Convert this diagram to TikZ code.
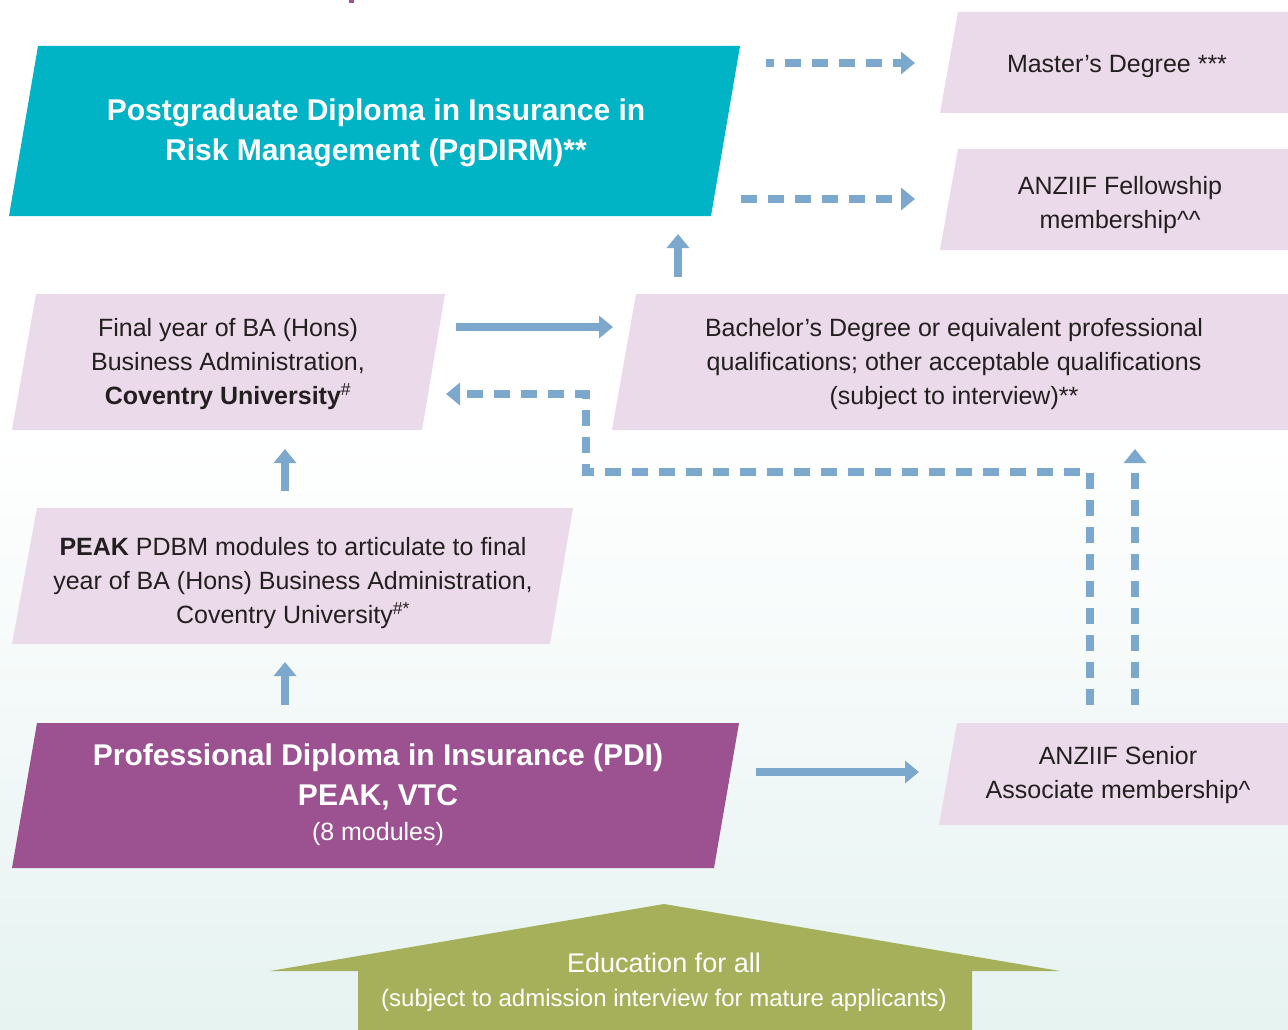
\documentclass[tikz,border=0pt]{standalone}
\usepackage{fontspec}
\setmainfont{Liberation Sans}
\usetikzlibrary{arrows.meta}
\definecolor{cTeal}{RGB}{0,180,197}
\definecolor{cPurple}{RGB}{156,82,144}
\definecolor{cPink}{RGB}{235,218,233}
\definecolor{cBlue}{RGB}{125,168,206}
\definecolor{cGreen}{RGB}{166,176,90}
\definecolor{cText}{RGB}{35,31,32}
\definecolor{cMint}{RGB}{230,243,241}
\tikzset{
  body/.style={text=cText, font=\fontsize{25}{34}\selectfont, align=center, inner sep=0pt},
  title/.style={text=white, font=\fontsize{30}{40}\selectfont\bfseries, align=center, inner sep=0pt},
  pinkbox/.style={fill=cPink},
  solidarrow/.style={draw=cBlue, line width=8pt, -{Triangle[width=22pt,length=14pt]}},
  dasharrow/.style={draw=cBlue, line width=8pt, dash pattern=on 16pt off 11pt, line join=miter, -{Triangle[width=22pt,length=14pt]}},
}
\begin{document}
\begin{tikzpicture}[x=1pt,y=-1pt]
\useasboundingbox (0,0) rectangle (1288,1030);
% background
\fill[white] (0,0) rectangle (1288,1030);
\shade[top color=white, bottom color=cMint] (0,432) rectangle (1288,1030);
\fill[cPurple] (349,0) rectangle (354,3);

% boxes
\fill[cTeal] (38,46) -- (740,46) -- (711,216) -- (9,216) -- cycle;
\fill[pinkbox] (958,12) -- (1288,12) -- (1288,113) -- (940,113) -- cycle;
\fill[pinkbox] (958,149) -- (1288,149) -- (1288,250) -- (940,250) -- cycle;
\fill[pinkbox] (36,294) -- (445,294) -- (422,430) -- (12,430) -- cycle;
\fill[pinkbox] (636,294) -- (1288,294) -- (1288,430) -- (612,430) -- cycle;
\fill[pinkbox] (37,508) -- (573,508) -- (550,644) -- (12,644) -- cycle;
\fill[cPurple] (37,723) -- (739,723) -- (714,868) -- (12,868) -- cycle;
\fill[pinkbox] (957,723) -- (1288,723) -- (1288,825) -- (939,825) -- cycle;
\fill[cGreen] (358,1030) -- (358,971) -- (270,971) -- (664,904) -- (1060,971) -- (972,971) -- (972,1030) -- cycle;

% texts
\node[title] (pg) at (376,133) {Postgraduate Diploma in Insurance in\\Risk Management (PgDIRM)**};
\node[body] (master) at (1117,66) {Master’s Degree ***};
\node[body] (fellow) at (1120,205) {ANZIIF Fellowship\\membership\textasciicircum\textasciicircum};
\node[body] (final) at (228,364) {Final year of BA (Hons)\\Business Administration,\\\textbf{Coventry University}\textsuperscript{\#}};
\node[body] (bach) at (954,364) {Bachelor’s Degree or equivalent professional\\qualifications; other acceptable qualifications\\(subject to interview)**};
\node[body] (peak) at (293,583) {\textbf{PEAK} PDBM modules to articulate to final\\year of BA (Hons) Business Administration,\\Coventry University\textsuperscript{\#*}};
\node[title, anchor=base] (pdi1) at (378,765) {Professional Diploma in Insurance (PDI)};
\node[title, anchor=base] (pdi2) at (378,805) {PEAK, VTC};
\node[body, text=white, anchor=base] (pdi3) at (378,840) {(8 modules)};
\node[body] (senior) at (1118,775) {ANZIIF Senior\\Associate membership\textasciicircum};
\node[body, text=white, font=\fontsize{27}{32}\selectfont, anchor=base] (edu1) at (664,972) {Education for all};
\node[body, text=white, font=\fontsize{24}{28}\selectfont, anchor=base] (edu2) at (664,1006) {(subject to admission interview for mature applicants)};

% connector end points
\coordinate (pgA) at (766,63);
\coordinate (masterIn) at (915,63);
\coordinate (pgB) at (741,199);
\coordinate (fellowIn) at (915,199);
\coordinate (bachUp) at (678,277);
\coordinate (pgDown) at (678,234);
\coordinate (finalOut) at (456,327);
\coordinate (bachIn) at (613,327);
\coordinate (senA) at (1090,705);
\coordinate (elbowA) at (1090,472);
\coordinate (elbowB) at (586,472);
\coordinate (elbowC) at (586,394);
\coordinate (finalIn) at (446,394);
\coordinate (senB) at (1135,705);
\coordinate (bachDown) at (1135,449);
\coordinate (peakUp) at (285,491);
\coordinate (finalDown) at (285,449);
\coordinate (pdiUp) at (285,705);
\coordinate (peakDown) at (285,662);
\coordinate (pdiOut) at (756,772);
\coordinate (senIn) at (919,772);

% connectors
\draw[dasharrow, dash phase=8pt] (pgA) -- (masterIn);
\draw[dasharrow] (pgB) -- (fellowIn);
\draw[solidarrow] (bachUp) -- (pgDown);
\draw[solidarrow] (finalOut) -- (bachIn);
\draw[dasharrow] (senA) -- (elbowA) -- (elbowB) -- (elbowC) -- (finalIn);
\draw[dasharrow] (senB) -- (bachDown);
\draw[solidarrow] (peakUp) -- (finalDown);
\draw[solidarrow] (pdiUp) -- (peakDown);
\draw[solidarrow] (pdiOut) -- (senIn);
\end{tikzpicture}
\end{document}
